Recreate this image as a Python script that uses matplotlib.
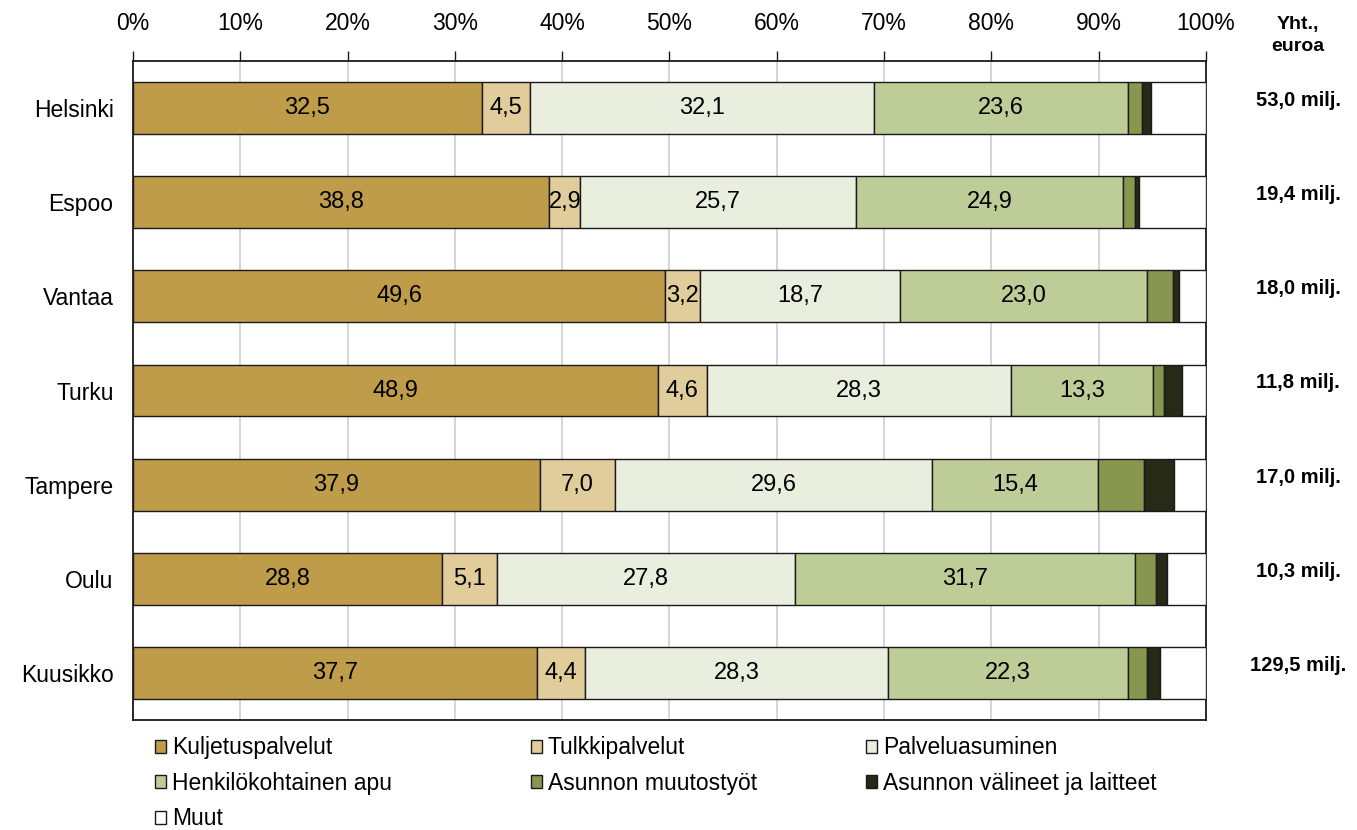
import numpy as np
import matplotlib.pyplot as plt

plt.rcParams['font.family'] = ['Liberation Sans', 'DejaVu Sans']

cities = ['Helsinki', 'Espoo', 'Vantaa', 'Turku', 'Tampere', 'Oulu', 'Kuusikko']
totals = ['53,0 milj.', '19,4 milj.', '18,0 milj.', '11,8 milj.', '17,0 milj.', '10,3 milj.', '129,5 milj.']

series_names = ['Kuljetuspalvelut', 'Tulkkipalvelut', 'Palveluasuminen', 'Henkilökohtainen apu',
                'Asunnon muutostyöt', 'Asunnon välineet ja laitteet', 'Muut']

kuljetus = [32.5, 38.8, 49.6, 48.9, 37.9, 28.8, 37.7]
tulkki = [4.5, 2.9, 3.2, 4.6, 7.0, 5.1, 4.4]
palveluasuminen = [32.1, 25.7, 18.7, 28.3, 29.6, 27.8, 28.3]
henkilo = [23.6, 24.9, 23.0, 13.3, 15.4, 31.7, 22.3]
muutostyot = [1.3, 1.1, 2.4, 1.0, 4.3, 1.9, 1.8]
valineet = [0.9, 0.4, 0.6, 1.7, 2.8, 1.1, 1.2]
muut = [5.1, 6.2, 2.5, 2.2, 3.0, 3.6, 4.3]

colors = ['#BE9C4A', '#E1CD9C', '#EAEEDF', '#BECC98', '#88974F', '#262A16', '#FFFFFF']
labelled = [True, True, True, True, False, False, False]

data = [kuljetus, tulkki, palveluasuminen, henkilo, muutostyot, valineet, muut]

fig = plt.figure(figsize=(13.57, 8.3), dpi=100)
ax = fig.add_axes([0.098, 0.1325, 0.7907, 0.794])

y = np.arange(len(cities))
left = np.zeros(len(cities))
handles = []
for vals, name, col, lab in zip(data, series_names, colors, labelled):
    vals = np.array(vals)
    bars = ax.barh(y, vals, left=left, height=0.55, color=col, edgecolor='#1a1a1a',
                   linewidth=1.0, label=name, zorder=3)
    handles.append(bars)
    if lab:
        for yi, l, v in zip(y, left, vals):
            ax.text(l + v / 2, yi, f'{v:.1f}'.replace('.', ','), ha='center', va='center',
                    fontsize=17, zorder=4)
    left += vals

ax.set_xlim(0, 100)
ax.set_ylim(6.5, -0.5)
ax.set_yticks(y)
ax.set_yticklabels(cities, fontsize=16.5)
ax.tick_params(axis='y', length=0, pad=14)
ax.xaxis.tick_top()
ax.set_xticks(np.arange(0, 101, 10))
ax.set_xticklabels([f'{v}%' for v in range(0, 101, 10)], fontsize=16.5)
ax.tick_params(axis='x', length=7, width=1, color='#1a1a1a', pad=12)
ax.grid(axis='x', color='#d0d0d0', linewidth=1.2, zorder=0)
for s in ax.spines.values():
    s.set_color('#1a1a1a')
    s.set_linewidth(1.3)

ax.text(108.6, -0.77, 'Yht.,\neuroa', ha='center', va='center', fontsize=14,
        fontweight='bold', clip_on=False, linespacing=1.35)
for yi, t in zip(y, totals):
    ax.text(108.6, yi - 0.08, t, ha='center', va='center', fontsize=14.5,
            fontweight='bold', clip_on=False)

# legend in three columns, placed like the original
columns = [[0, 3, 6], [1, 4], [2, 5]]
col_x = [0.114, 0.391, 0.638]
for idx, cx in zip(columns, col_x):
    leg = fig.legend([handles[i] for i in idx], [series_names[i] for i in idx],
                     loc='upper left', bbox_to_anchor=(cx, 0.113), ncol=1, frameon=False,
                     fontsize=16.5, handlelength=0.5, handleheight=0.5, handletextpad=0.25,
                     labelspacing=0.55, borderaxespad=0, borderpad=0)
    for h in leg.legend_handles:
        h.set_linewidth(1.0)

fig.savefig('out.png', dpi=100)
